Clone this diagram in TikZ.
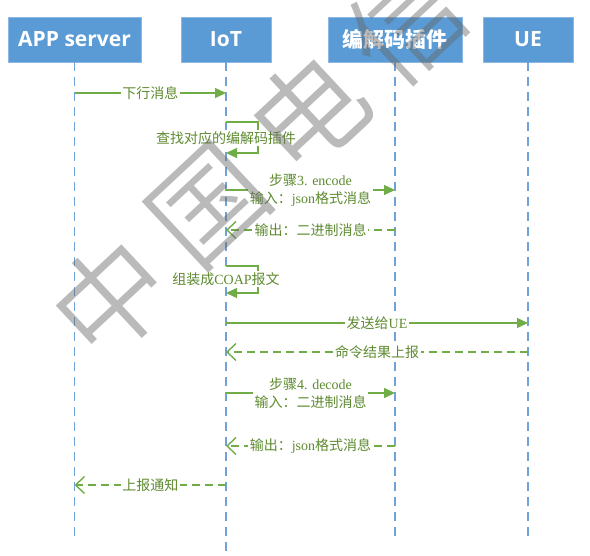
\documentclass[tikz,border=0pt]{standalone}
\usepackage{fontspec}
\setmainfont{Liberation Serif}
\newfontfamily\cjkf{Noto Sans CJK SC}
\newfontfamily\wmf{Noto Sans CJK SC DemiLight}
\newfontfamily\headf{Open Sans}
\newcommand\zhs[1]{{\cjkf #1}}
\usetikzlibrary{arrows.meta}
\definecolor{boxblue}{HTML}{5B9BD5}
\definecolor{lineblue}{HTML}{6FA3D8}
\definecolor{arrowgreen}{HTML}{70AD47}
\definecolor{labelgreen}{HTML}{5E8B30}
\begin{document}
\begin{tikzpicture}[x=1pt,y=-1pt,
  lane/.style={fill=boxblue,draw=boxblue!70!white,line width=0.6pt,minimum height=45pt,text=white,inner sep=0pt},
  lanelat/.style={lane,font=\headf\bfseries\fontsize{21}{24}\selectfont},
  lanecjk/.style={lane,font=\cjkf\bfseries\fontsize{21}{24}\selectfont},
  life/.style={draw=lineblue,line width=1.1pt,dash pattern=on 9pt off 6pt},
  msg/.style={draw=arrowgreen,line width=1.4pt,-{Triangle[length=11pt,width=10pt]}},
  ret/.style={draw=arrowgreen,line width=1.4pt,dash pattern=on 8pt off 5pt,-{Straight Barb[length=9pt,width=17pt]}},
  lbl/.style={fill=white,text=labelgreen,font=\fontsize{14}{18}\selectfont,inner sep=1.5pt,align=center},
  wm/.style={text=black!60,text opacity=0.45,font=\wmf\fontsize{112}{112}\selectfont,rotate=43,inner sep=0pt}]
\useasboundingbox (0,0) rectangle (590,556);
% heads
\node[lanelat,minimum width=133pt] (app) at (74.5,39.5) {APP server};
\node[lanelat,minimum width=90pt] (iot) at (226,39.5) {IoT};
\node[lanecjk,minimum width=134pt] (codec) at (395,39.5) {编解码插件};
\node[lanelat,minimum width=90pt] (ue) at (528,39.5) {UE};
% lifeline ends
\coordinate (appE) at (74.5,540);
\coordinate (iotE) at (226,553);
\coordinate (codecE) at (395,540);
\coordinate (ueE) at (528,540);
\draw[life] (app.south) -- (appE);
\draw[life] (iot.south) -- (iotE);
\draw[life] (codec.south) -- (codecE);
\draw[life] (ue.south) -- (ueE);
% rows
\coordinate (r1) at (0,93);
\coordinate (r2) at (0,122);
\coordinate (r3) at (0,190);
\coordinate (r4) at (0,230);
\coordinate (r5) at (0,266);
\coordinate (r6) at (0,323);
\coordinate (r7) at (0,352);
\coordinate (r8) at (0,393);
\coordinate (r9) at (0,446);
\coordinate (r10) at (0,485);
% messages
\draw[msg] (app |- r1) -- node[lbl] {\zhs{下行消息}} (iot |- r1);
\draw[msg] (iot |- r2) -- ++(32,0) -- ++(0,31) -- ++(-32,0);
\node[lbl] (l2) at (226,138) {\zhs{查找对应的编解码插件}};
\draw[msg] (iot |- r3) -- node[lbl] {\zhs{步骤}3. encode\\\zhs{输入：}json\zhs{格式消息}} (codec |- r3);
\draw[ret] (codec |- r4) -- node[lbl] {\zhs{输出：二进制消息}} (iot |- r4);
\draw[msg] (iot |- r5) -- ++(32,0) -- ++(0,27) -- ++(-32,0);
\node[lbl] (l5) at (226,279) {\zhs{组装成}COAP\zhs{报文}};
\draw[msg] (iot |- r6) -- node[lbl] {\zhs{发送给}UE} (ue |- r6);
\draw[ret] (ue |- r7) -- node[lbl] {\zhs{命令结果上报}} (iot |- r7);
\draw[msg] (iot |- r8) -- node[lbl] {\zhs{步骤}4. decode\\\zhs{输入：二进制消息}} (codec |- r8);
\draw[ret] (codec |- r9) -- node[lbl] {\zhs{输出：}json\zhs{格式消息}} (iot |- r9);
\draw[ret] (iot |- r10) -- node[lbl] {\zhs{上报通知}} (app |- r10);
% watermark
\node[wm] (w1) at (110,298) {中};
\node[wm] (w2) at (209,206) {国};
\node[wm] (w3) at (308,112) {电};
\node[wm] (w4) at (406,24) {信};
\end{tikzpicture}
\end{document}
